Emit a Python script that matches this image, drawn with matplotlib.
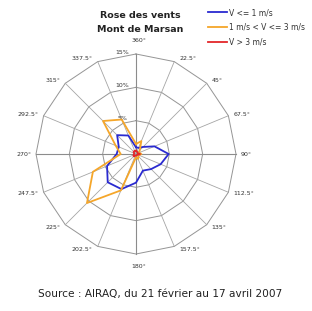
import matplotlib.pyplot as plt
import numpy as np

directions = [0, 22.5, 45, 67.5, 90, 112.5, 135, 157.5,
              180, 202.5, 225, 247.5, 270, 292.5, 315, 337.5]
dir_labels = ["360°", "22.5°", "45°", "67.5°", "90°", "112.5°", "135°", "157.5°",
              "180°", "202.5°", "225°", "247.5°", "270°", "292.5°", "315°", "337.5°"]

# frequence (%) par direction
v_low = [1.0, 1.0, 1.5, 3.0, 4.9, 4.0, 3.2, 2.7, 4.3, 5.7, 6.0, 4.7, 2.9, 2.8, 4.0, 3.0]
v_mid = [1.5, 2.1, 0.8, 0.5, 0.8, 0.5, 0.5, 0.8, 0.5, 5.9, 10.4, 7.0, 2.3, 3.3, 7.0, 5.6]
v_high = [0.5, 0.4, 0.3, 0.3, 0.6, 0.3, 0.2, 0.2, 0.2, 0.3, 0.5, 0.4, 0.3, 0.3, 0.5, 0.5]

rings = [5, 10, 15]
ring_labels = ["5%", "10%", "15%"]

series = [("V <= 1 m/s", v_low, "#2a2ad0"),
          ("1 m/s < V <= 3 m/s", v_mid, "#f5a62a"),
          ("V > 3 m/s", v_high, "#e3262a")]

W, H = 312, 311
cx, cy, R = 136, 154, 100  # centre et rayon en pixels
fig = plt.figure(figsize=(W / 100, H / 100), dpi=100)
ax = fig.add_axes([0, 0, 1, 1])
ax.set_xlim(-cx * rings[-1] / R, (W - cx) * rings[-1] / R)
ax.set_ylim(-(H - cy) * rings[-1] / R, cy * rings[-1] / R)
ax.axis("off")

th = np.radians(directions)
sx, sy = np.sin(th), np.cos(th)
rmax = rings[-1]

# grille polygonale
for r in rings:
    ax.plot(np.append(r * sx, r * sx[0]), np.append(r * sy, r * sy[0]),
            color="#959595", lw=0.7, zorder=1)
for i in range(len(directions)):
    main = directions[i] % 90 == 0
    ax.plot([0, rmax * sx[i]], [0, rmax * sy[i]],
            color="#8c8c8c" if main else "#a5a5a5", lw=0.8 if main else 0.6, zorder=1)
    # etiquette collee au sommet, a gauche / a droite
    if abs(sx[i]) < 1e-6:
        ha, off = "center", (2, 10 if sy[i] > 0 else -9)
    else:
        ha = "left" if sx[i] > 0 else "right"
        off = (3.5 * np.sign(sx[i]), 2.8 * sy[i])
    ax.annotate(dir_labels[i], xy=(rmax * sx[i], rmax * sy[i]), xytext=off,
                textcoords="offset points", fontsize=4.5, color="#333333",
                ha=ha, va="center")

for r, lab in zip(rings, ring_labels):
    ax.text(-2.0, r + 0.3, lab, fontsize=4.5, color="#333333", ha="center", va="center")

for name, vals, col in series:
    v = np.array(vals)
    ax.plot(np.append(v * sx, v[0] * sx[0]), np.append(v * sy, v[0] * sy[0]),
            color=col, lw=1.3, label=name, zorder=3)

fig.text(140 / W, 1 - 16 / H, "Rose des vents", fontsize=6.8, fontweight="bold",
         ha="center", va="center", color="#222222")
fig.text(140 / W, 1 - 30 / H, "Mont de Marsan", fontsize=6.8, fontweight="bold",
         ha="center", va="center", color="#222222")

leg = ax.legend(loc="upper left", bbox_to_anchor=(208 / W, 1 - 8 / H),
                bbox_transform=fig.transFigure, frameon=False, fontsize=5.5,
                handlelength=2.5, handletextpad=0.3, labelspacing=0.74,
                borderpad=0, borderaxespad=0)
for t in leg.get_texts():
    t.set_color("#333333")

fig.text(160 / W, 1 - 294 / H, "Source : AIRAQ, du 21 février au 17 avril 2007",
         fontsize=7.6, ha="center", va="center", color="#222222")

fig.savefig("out.png", dpi=100)
